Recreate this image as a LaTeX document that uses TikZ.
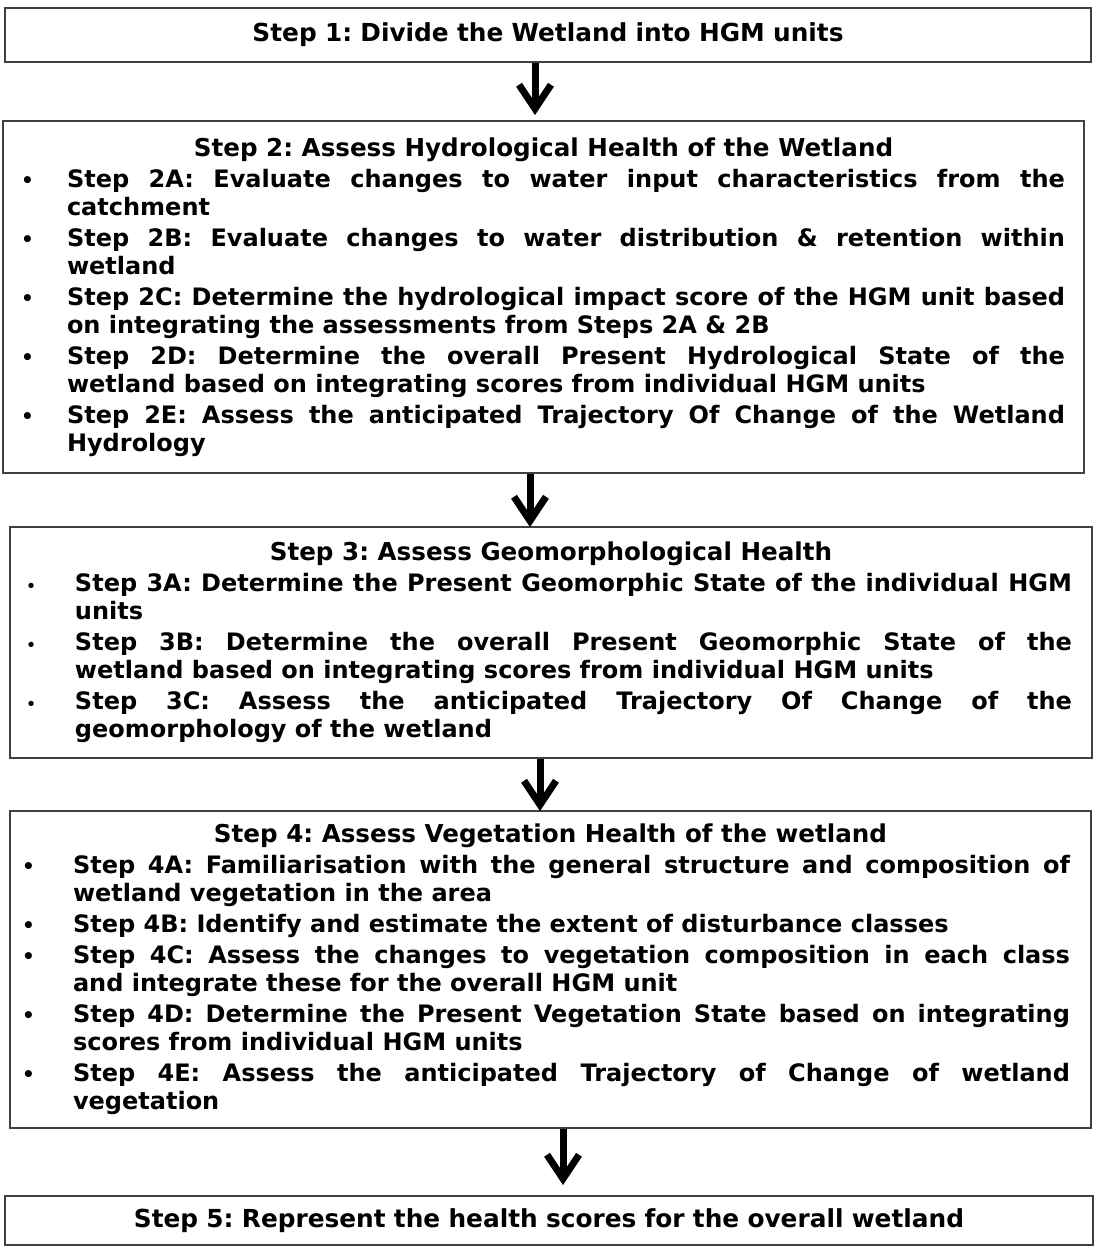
\documentclass[tikz,border=0pt]{standalone}
\usepackage{fontspec}
\setmainfont{DejaVu Sans}
\usetikzlibrary{arrows.meta}
\newenvironment{blist}[4]{\begin{list}{#4}{\setlength\leftmargin{#1}\setlength\rightmargin{#2}\setlength\labelsep{#3}\setlength\labelwidth{20pt}\setlength\itemsep{3pt}\setlength\parsep{0pt}\setlength\topsep{3pt}\setlength\partopsep{0pt}\setlength\itemindent{0pt}}}{\end{list}}
\newcommand\bigbul{{\fontsize{20}{20}\selectfont\textbullet}}
\newcommand\smallbul{{\fontsize{15}{15}\selectfont\textbullet}}
\newcommand\ttl[1]{{\centering\fontsize{24.6}{28}\selectfont #1\par}}
\begin{document}
\begin{tikzpicture}[x=1pt,y=-1pt,
  box/.style={draw=black!75, line width=1.8pt, inner sep=0pt, fill=white,
    font=\fontsize{24}{28}\selectfont\bfseries},
  listbox/.style={box, align=justify},
  onebox/.style={box, align=center, font=\fontsize{24.8}{28}\selectfont\bfseries},
  arr/.style={line width=7pt, -{Straight Barb[length=24pt,width=32pt]}}]
\useasboundingbox (0,0) rectangle (1096,1254);
\fill[white] (0,0) rectangle (1096,1254);
\hyphenpenalty=10000
\frenchspacing
\spaceskip=0.32em plus 1em minus 0.24em

\node[onebox, minimum height=54pt, text width=1086pt] (b1) at (548,35)
  {Step 1: Divide the Wetland into HGM units};

\node[listbox, minimum height=352pt, text width=1081pt] (b2) at (543.5,297) {%
\ttl{Step 2: Assess Hydrological Health of the Wetland}
\begin{blist}{64pt}{19pt}{33pt}{\bigbul}
\item Step 2A: Evaluate changes to water input characteristics from the\linebreak catchment
\item Step 2B: Evaluate changes to water distribution \& retention within\linebreak wetland
\item Step 2C: Determine the hydrological impact score of the HGM unit based\linebreak on integrating the assessments from Steps 2A \& 2B
\item Step 2D: Determine the overall Present Hydrological State of the\linebreak wetland based on integrating scores from individual HGM units
\item Step 2E: Assess the anticipated Trajectory Of Change of the Wetland\linebreak Hydrology
\end{blist}};

\node[listbox, minimum height=231pt, text width=1082pt] (b3) at (551,642.5) {%
\ttl{Step 3: Assess Geomorphological Health}
\begin{blist}{65pt}{20pt}{39pt}{\smallbul}
\item Step 3A: Determine the Present Geomorphic State of the individual HGM\linebreak units
\item Step 3B: Determine the overall Present Geomorphic State of the\linebreak wetland based on integrating scores from individual HGM units
\item Step 3C: Assess the anticipated Trajectory Of Change of the\linebreak geomorphology of the wetland
\end{blist}};

\node[listbox, minimum height=317pt, text width=1081pt] (b4) at (550.5,969.5) {%
\ttl{Step 4: Assess Vegetation Health of the wetland}
\begin{blist}{63pt}{21pt}{38pt}{\bigbul}
\item Step 4A: Familiarisation with the general structure and composition of\linebreak wetland vegetation in the area
\item Step 4B: Identify and estimate the extent of disturbance classes
\item Step 4C: Assess the changes to vegetation composition in each class\linebreak and integrate these for the overall HGM unit
\item Step 4D: Determine the Present Vegetation State based on integrating\linebreak scores from individual HGM units
\item Step 4E: Assess the anticipated Trajectory of Change of wetland\linebreak vegetation
\end{blist}};

\node[onebox, minimum height=49pt, text width=1088pt] (b5) at (549,1220.5)
  {Step 5: Represent the health scores for the overall wetland};

\coordinate (x1) at (535,0);
\coordinate (x2) at (530,0);
\coordinate (x3) at (540,0);
\coordinate (x4) at (563,0);
\draw[arr] (b1.south -| x1) -- ([yshift=5pt]b2.north -| x1);
\draw[arr] (b2.south -| x2) -- ([yshift=-1pt]b3.north -| x2);
\draw[arr] (b3.south -| x3) -- ([yshift=-1pt]b4.north -| x3);
\draw[arr] (b4.south -| x4) -- ([yshift=10pt]b5.north -| x4);
\end{tikzpicture}
\end{document}
